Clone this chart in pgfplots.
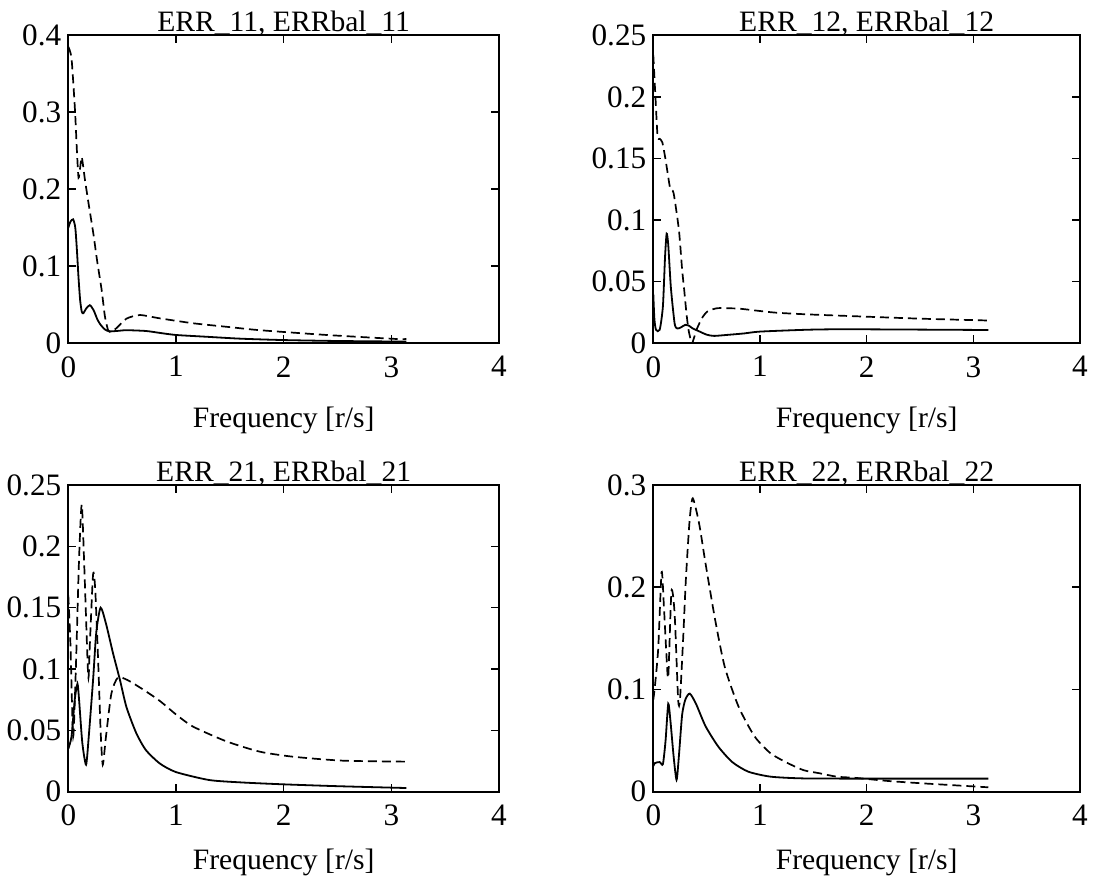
\documentclass[border=0pt]{standalone}
\usepackage{pgfplots}
\pgfplotsset{compat=1.18}
\usepackage{fontspec}
\setmainfont{Liberation Serif}
\newcommand{\ff}{\fontsize{14.8pt}{17pt}\selectfont}
\newcommand{\tf}{\fontsize{15.6pt}{18pt}\selectfont}
\pgfplotsset{
  myax/.style={
    scale only axis, height=154pt,
    xmin=0, xmax=4, xtick={0,1,2,3,4}, xticklabels={0,1,2,3,4},
    tick align=inside, major tick length=4pt,
    axis line style={line width=0.9pt},
    every tick/.style={line width=0.8pt, black},
    tick label style={font=\tf},
    /pgf/number format/assume math mode=true,
    xticklabel style={yshift=-3pt},
    every axis title/.style={font=\ff, at={(axis description cs:0.5,1)}, anchor=base, yshift=1.8pt},
    xlabel={Frequency [r/s]},
    every axis x label/.style={font=\ff, at={(axis description cs:0.5,0)}, anchor=base, yshift=-39pt},
    clip=true,
  },
  sol/.style={black, line width=0.9pt, smooth, tension=0.4},
  das/.style={black, line width=0.85pt, smooth, tension=0.4, dash pattern=on 4.5pt off 2.5pt},
}
\begin{document}
\begin{tikzpicture}
\useasboundingbox (0,0) rectangle (548.5pt,-440.5pt);
% ---------- top left ----------
\begin{axis}[myax, at={(34.15pt,-171.65pt)}, anchor=south west, width=215.35pt,
  ymin=0, ymax=0.4, ytick={0,0.1,0.2,0.3,0.4}, yticklabels={0,0.1,0.2,0.3,0.4},
  title={ERR\_11, ERRbal\_11}, xlabel style={yshift=-3pt}]
\addplot[sol] coordinates {(0,0.15)(0.02,0.158)(0.045,0.161)(0.065,0.15)(0.08,0.121)(0.095,0.085)(0.11,0.056)(0.125,0.041)(0.14,0.039)(0.165,0.045)(0.2,0.0495)(0.235,0.043)(0.27,0.031)(0.3,0.024)(0.34,0.018)(0.38,0.0155)(0.45,0.016)(0.54,0.017)(0.72,0.016)(0.85,0.0135)(1.0,0.0108)(1.27,0.0086)(1.6,0.006)(2.0,0.0042)(2.5,0.003)(3.14,0.0022)};
\addplot[das] coordinates {(0,0.385)(0.03,0.37)(0.062,0.303)(0.08,0.25)(0.095,0.215)(0.11,0.228)(0.124,0.242)(0.14,0.228)(0.155,0.212)(0.19,0.18)(0.232,0.143)(0.27,0.105)(0.31,0.069)(0.34,0.035)(0.37,0.017)(0.4,0.015)(0.45,0.02)(0.54,0.032)(0.665,0.0367)(0.85,0.0324)(1.16,0.026)(1.5,0.021)(1.78,0.017)(2.4,0.0108)(3.02,0.0058)(3.14,0.0055)};
\end{axis}
% ---------- top right ----------
\begin{axis}[myax, at={(326.65pt,-171.65pt)}, anchor=south west, width=213.35pt,
  ymin=0, ymax=0.25, ytick={0,0.05,0.1,0.15,0.2,0.25}, yticklabels={0,0.05,0.1,0.15,0.2,0.25},
  title={ERR\_12, ERRbal\_12}, xlabel style={yshift=-3pt}]
\addplot[sol] coordinates {(0,0.04)(0.01,0.02)(0.025,0.011)(0.06,0.011)(0.09,0.03)(0.11,0.07)(0.125,0.089)(0.14,0.08)(0.165,0.045)(0.2,0.016)(0.225,0.012)(0.26,0.013)(0.3,0.015)(0.33,0.0145)(0.37,0.012)(0.41,0.0105)(0.5,0.007)(0.57,0.006)(0.69,0.0068)(0.85,0.008)(1.0,0.0095)(1.44,0.011)(1.76,0.0114)(2.3,0.0112)(3.14,0.0108)};
\addplot[das] coordinates {(0,0.234)(0.02,0.2)(0.04,0.168)(0.06,0.166)(0.085,0.163)(0.115,0.149)(0.14,0.135)(0.16,0.125)(0.19,0.122)(0.24,0.092)(0.27,0.06)(0.29,0.043)(0.31,0.025)(0.33,0.011)(0.36,0)(0.38,0.004)(0.41,0.012)(0.46,0.021)(0.51,0.026)(0.6,0.0285)(0.72,0.0284)(0.82,0.028)(1.13,0.025)(1.44,0.0235)(2.0,0.0216)(2.5,0.02)(3.14,0.0185)};
\end{axis}
% ---------- bottom left ----------
\begin{axis}[myax, at={(34.15pt,-395.85pt)}, anchor=south west, width=215.35pt, height=153.35pt,
  ymin=0, ymax=0.25, ytick={0,0.05,0.1,0.15,0.2,0.25}, yticklabels={0,0.05,0.1,0.15,0.2,0.25},
  title={ERR\_21, ERRbal\_21}]
\addplot[sol] coordinates {(0,0.035)(0.03,0.045)(0.06,0.075)(0.085,0.088)(0.1,0.075)(0.13,0.04)(0.165,0.022)(0.19,0.045)(0.23,0.091)(0.26,0.13)(0.3,0.15)(0.35,0.137)(0.415,0.113)(0.48,0.091)(0.54,0.069)(0.63,0.048)(0.72,0.034)(0.85,0.023)(1.0,0.016)(1.31,0.0095)(1.62,0.0075)(2.0,0.006)(2.5,0.0045)(3.14,0.003)};
\addplot[das] coordinates {(0,0.16)(0.02,0.12)(0.045,0.045)(0.07,0.1)(0.1,0.19)(0.125,0.234)(0.15,0.18)(0.185,0.094)(0.2,0.12)(0.23,0.177)(0.25,0.165)(0.28,0.1)(0.3,0.05)(0.32,0.022)(0.35,0.045)(0.4,0.08)(0.46,0.093)(0.55,0.091)(0.7,0.083)(0.85,0.074)(1.0,0.063)(1.16,0.053)(1.47,0.041)(1.78,0.0326)(2.09,0.0285)(2.55,0.0253)(3.14,0.0245)};
\end{axis}
% ---------- bottom right ----------
\begin{axis}[myax, at={(326.65pt,-395.85pt)}, anchor=south west, width=213.35pt, height=153.35pt,
  ymin=0, ymax=0.3, ytick={0,0.1,0.2,0.3}, yticklabels={0,0.1,0.2,0.3},
  title={ERR\_22, ERRbal\_22}]
\addplot[sol] coordinates {(0,0.025)(0.015,0.028)(0.06,0.029)(0.09,0.027)(0.115,0.05)(0.14,0.086)(0.16,0.07)(0.19,0.035)(0.218,0.0115)(0.24,0.035)(0.27,0.075)(0.3,0.09)(0.342,0.096)(0.4,0.086)(0.49,0.064)(0.61,0.044)(0.74,0.029)(0.89,0.0196)(1.1,0.0147)(1.41,0.013)(2.0,0.0128)(3.14,0.0128)};
\addplot[das] coordinates {(0,0.09)(0.015,0.103)(0.046,0.14)(0.078,0.215)(0.1,0.18)(0.12,0.14)(0.14,0.112)(0.17,0.196)(0.2,0.174)(0.233,0.09)(0.25,0.09)(0.28,0.15)(0.305,0.207)(0.34,0.265)(0.37,0.287)(0.43,0.262)(0.49,0.223)(0.58,0.168)(0.67,0.122)(0.8,0.083)(0.95,0.054)(1.1,0.0375)(1.26,0.028)(1.41,0.021)(1.56,0.018)(1.72,0.0147)(1.9,0.0135)(2.2,0.0105)(2.52,0.0082)(3.14,0.0043)};
\end{axis}
\end{tikzpicture}
\end{document}
